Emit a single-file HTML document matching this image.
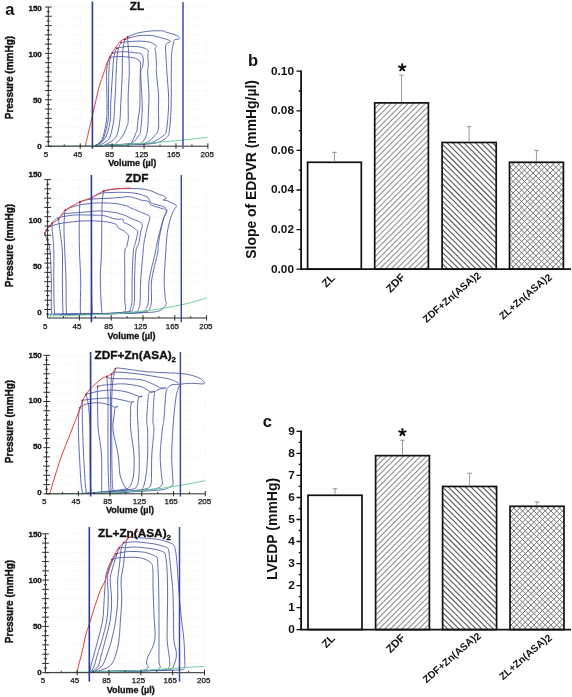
<!DOCTYPE html>
<html><head><meta charset="utf-8"><style>
html,body{margin:0;padding:0;background:#fff;}
body{width:572px;height:697px;overflow:hidden;font-family:"Liberation Sans", sans-serif;}
svg{display:block;will-change:transform;}
</style></head><body>
<svg width="572" height="697" viewBox="0 0 572 697" font-family='"Liberation Sans", sans-serif'>
<rect width="572" height="697" fill="#fff"/>
<path d="M51.3,7.00H207.9M51.3,16.28H207.9M51.3,25.56H207.9M51.3,34.84H207.9M51.3,44.12H207.9M51.3,53.40H207.9M51.3,62.68H207.9M51.3,71.96H207.9M51.3,81.24H207.9M51.3,90.52H207.9M51.3,99.80H207.9M51.3,109.08H207.9M51.3,118.36H207.9M51.3,127.64H207.9M51.3,136.92H207.9M80.22,7.0V143.2M112.14,7.0V143.2M144.06,7.0V143.2M175.98,7.0V143.2M207.90,7.0V143.2" stroke="#e9ebf1" stroke-width="0.7" stroke-dasharray="1.2 1.8" fill="none"/>
<path d="M127.50,37.00 C128.58,36.53 131.92,34.95 134.00,34.20 C136.08,33.45 137.03,33.05 140.00,32.50 C142.97,31.95 148.00,31.17 151.80,30.90 C155.60,30.63 160.43,30.70 162.80,30.90 C165.17,31.10 163.77,31.38 166.00,32.10 C168.23,32.82 173.98,34.28 176.20,35.20 C178.42,36.12 178.90,36.93 179.30,37.60 C179.70,38.27 179.32,38.87 178.60,39.20 C177.88,39.53 175.80,39.22 175.00,39.60 C174.20,39.98 174.25,40.00 173.80,41.50 C173.35,43.00 172.68,46.10 172.30,48.60 C171.92,51.10 171.67,52.60 171.50,56.50 C171.33,60.40 171.33,65.58 171.30,72.00 C171.27,78.42 171.35,88.67 171.30,95.00 C171.25,101.33 171.32,104.00 171.00,110.00 C170.68,116.00 170.10,126.45 169.40,131.00 C168.70,135.55 168.45,135.47 166.80,137.30 C165.15,139.13 162.30,140.92 159.50,142.00 C156.70,143.08 154.08,143.37 150.00,143.80 C145.92,144.23 140.00,144.37 135.00,144.60 C130.00,144.83 123.47,145.07 120.00,145.20 C116.53,145.33 115.17,145.37 114.20,145.40 C115.60,143.83 120.47,139.23 122.60,136.00 C124.73,132.77 126.07,128.67 127.00,126.00 C127.93,123.33 128.00,125.17 128.20,120.00 C128.40,114.83 128.02,103.00 128.20,95.00 C128.38,87.00 129.20,78.67 129.30,72.00 C129.40,65.33 129.02,59.67 128.80,55.00 C128.58,50.33 128.22,47.00 128.00,44.00 C127.78,41.00 127.58,38.17 127.50,37.00M124.80,39.50 C126.00,39.12 129.47,37.85 132.00,37.20 C134.53,36.55 136.70,35.87 140.00,35.60 C143.30,35.33 148.13,35.20 151.80,35.60 C155.47,36.00 159.12,37.22 162.00,38.00 C164.88,38.78 167.72,39.65 169.10,40.30 C170.48,40.95 170.68,41.37 170.30,41.90 C169.92,42.43 167.58,42.65 166.80,43.50 C166.02,44.35 165.73,44.83 165.60,47.00 C165.47,49.17 165.78,52.33 166.00,56.50 C166.22,60.67 166.48,65.58 166.90,72.00 C167.32,78.42 168.25,88.67 168.50,95.00 C168.75,101.33 168.77,104.00 168.40,110.00 C168.03,116.00 167.27,126.63 166.30,131.00 C165.33,135.37 164.97,134.28 162.60,136.20 C160.23,138.12 155.03,141.22 152.10,142.50 C149.17,143.78 149.52,143.52 145.00,143.90 C140.48,144.28 131.83,144.53 125.00,144.80 C118.17,145.07 107.50,145.38 104.00,145.50 C105.33,144.75 109.83,142.75 112.00,141.00 C114.17,139.25 115.68,138.50 117.00,135.00 C118.32,131.50 119.30,124.67 119.90,120.00 C120.50,115.33 120.33,112.00 120.60,107.00 C120.87,102.00 121.22,95.83 121.50,90.00 C121.78,84.17 122.13,77.83 122.30,72.00 C122.47,66.17 122.30,59.50 122.50,55.00 C122.70,50.50 123.12,47.58 123.50,45.00 C123.88,42.42 124.58,40.42 124.80,39.50M121.20,42.50 C122.67,42.35 126.87,41.83 130.00,41.60 C133.13,41.37 136.63,40.98 140.00,41.10 C143.37,41.22 147.52,41.57 150.20,42.30 C152.88,43.03 155.05,44.78 156.10,45.50 C157.15,46.22 156.68,46.08 156.50,46.60 C156.32,47.12 155.13,47.62 155.00,48.60 C154.87,49.58 155.45,49.77 155.70,52.50 C155.95,55.23 156.38,61.75 156.50,65.00 C156.62,68.25 156.07,67.00 156.40,72.00 C156.73,77.00 158.17,88.67 158.50,95.00 C158.83,101.33 158.42,104.35 158.40,110.00 C158.38,115.65 159.10,124.53 158.40,128.90 C157.70,133.27 156.12,133.93 154.20,136.20 C152.28,138.47 149.60,141.20 146.90,142.50 C144.20,143.80 143.32,143.60 138.00,144.00 C132.68,144.40 121.58,144.60 115.00,144.90 C108.42,145.20 101.25,145.65 98.50,145.80 C99.55,145.22 102.88,143.77 104.80,142.30 C106.72,140.83 108.50,140.72 110.00,137.00 C111.50,133.28 113.05,125.00 113.80,120.00 C114.55,115.00 114.22,112.00 114.50,107.00 C114.78,102.00 115.22,95.83 115.50,90.00 C115.78,84.17 115.95,77.33 116.20,72.00 C116.45,66.67 116.62,62.00 117.00,58.00 C117.38,54.00 117.80,50.58 118.50,48.00 C119.20,45.42 120.75,43.42 121.20,42.50M116.90,48.20 C117.92,48.00 120.82,47.30 123.00,47.00 C125.18,46.70 127.17,46.40 130.00,46.40 C132.83,46.40 137.15,46.50 140.00,47.00 C142.85,47.50 145.72,48.62 147.10,49.40 C148.48,50.18 148.17,50.52 148.30,51.70 C148.43,52.88 147.90,54.28 147.90,56.50 C147.90,58.72 148.33,62.42 148.30,65.00 C148.27,67.58 147.58,67.00 147.70,72.00 C147.82,77.00 148.87,88.67 149.00,95.00 C149.13,101.33 148.77,104.00 148.50,110.00 C148.23,116.00 148.20,125.93 147.40,131.00 C146.60,136.07 145.18,138.30 143.70,140.40 C142.22,142.50 142.45,142.87 138.50,143.60 C134.55,144.33 127.02,144.40 120.00,144.80 C112.98,145.20 100.33,145.80 96.40,146.00 C97.45,145.20 100.93,143.20 102.70,141.20 C104.47,139.20 105.73,137.53 107.00,134.00 C108.27,130.47 109.70,124.50 110.30,120.00 C110.90,115.50 110.40,112.00 110.60,107.00 C110.80,102.00 111.15,95.83 111.50,90.00 C111.85,84.17 112.37,77.00 112.70,72.00 C113.03,67.00 113.12,63.33 113.50,60.00 C113.88,56.67 114.43,53.97 115.00,52.00 C115.57,50.03 116.58,48.83 116.90,48.20M112.50,53.00 C113.42,52.83 115.82,52.22 118.00,52.00 C120.18,51.78 122.43,51.53 125.60,51.70 C128.77,51.87 134.60,52.73 137.00,53.00 C139.40,53.27 139.08,52.88 140.00,53.30 C140.92,53.72 141.95,54.38 142.50,55.50 C143.05,56.62 143.30,58.08 143.30,60.00 C143.30,61.92 142.93,65.00 142.50,67.00 C142.07,69.00 140.82,67.33 140.70,72.00 C140.58,76.67 141.55,88.67 141.80,95.00 C142.05,101.33 142.40,104.00 142.20,110.00 C142.00,116.00 141.13,126.83 140.60,131.00 C140.07,135.17 140.05,133.25 139.00,135.00 C137.95,136.75 135.80,140.03 134.30,141.50 C132.80,142.97 133.22,143.25 130.00,143.80 C126.78,144.35 120.75,144.43 115.00,144.80 C109.25,145.17 98.75,145.80 95.50,146.00 C96.25,145.50 98.58,144.50 100.00,143.00 C101.42,141.50 102.65,140.83 104.00,137.00 C105.35,133.17 107.37,125.00 108.10,120.00 C108.83,115.00 108.32,112.00 108.40,107.00 C108.48,102.00 108.52,95.83 108.60,90.00 C108.68,84.17 108.75,76.67 108.90,72.00 C109.05,67.33 109.18,64.67 109.50,62.00 C109.82,59.33 110.30,57.50 110.80,56.00 C111.30,54.50 112.22,53.50 112.50,53.00M109.90,57.30 C110.75,57.22 113.12,56.93 115.00,56.80 C116.88,56.67 118.70,56.42 121.20,56.50 C123.70,56.58 127.67,57.02 130.00,57.30 C132.33,57.58 133.70,57.67 135.20,58.20 C136.70,58.73 138.12,59.70 139.00,60.50 C139.88,61.30 140.28,61.08 140.50,63.00 C140.72,64.92 140.38,67.50 140.30,72.00 C140.22,76.50 140.08,84.17 140.00,90.00 C139.92,95.83 140.13,102.00 139.80,107.00 C139.47,112.00 138.48,116.00 138.00,120.00 C137.52,124.00 137.25,128.83 136.90,131.00 C136.55,133.17 136.68,131.25 135.90,133.00 C135.12,134.75 133.52,139.68 132.20,141.50 C130.88,143.32 131.70,143.32 128.00,143.90 C124.30,144.48 115.58,144.63 110.00,145.00 C104.42,145.37 97.08,145.92 94.50,146.10 C95.25,145.58 97.58,144.52 99.00,143.00 C100.42,141.48 101.75,140.83 103.00,137.00 C104.25,133.17 105.83,125.00 106.50,120.00 C107.17,115.00 106.95,112.00 107.00,107.00 C107.05,102.00 106.87,95.83 106.80,90.00 C106.73,84.17 106.48,76.33 106.60,72.00 C106.72,67.67 107.18,66.00 107.50,64.00 C107.82,62.00 108.10,61.12 108.50,60.00 C108.90,58.88 109.67,57.75 109.90,57.30" stroke="#4d5ca8" stroke-width="0.9" fill="none" stroke-linejoin="round"/>
<path d="M48.30,146.00 C53.58,145.98 71.38,145.98 80.00,145.90 C88.62,145.82 93.33,145.68 100.00,145.50 C106.67,145.32 113.33,145.12 120.00,144.80 C126.67,144.48 133.33,144.03 140.00,143.60 C146.67,143.17 153.33,142.75 160.00,142.20 C166.67,141.65 174.17,140.87 180.00,140.30 C185.83,139.73 190.43,139.28 195.00,138.80 C199.57,138.32 205.33,137.63 207.40,137.40" stroke="#6fcf9a" stroke-width="1" fill="none"/>
<path d="M85.30,146.20 C85.88,143.67 87.63,136.03 88.80,131.00 C89.97,125.97 91.10,121.17 92.30,116.00 C93.50,110.83 94.78,105.17 96.00,100.00 C97.22,94.83 98.38,89.27 99.60,85.00 C100.82,80.73 102.03,78.13 103.30,74.40 C104.57,70.67 106.03,65.67 107.20,62.60 C108.37,59.53 108.98,58.40 110.30,56.00 C111.62,53.60 113.72,50.30 115.10,48.20 C116.48,46.10 117.58,44.65 118.60,43.40 C119.62,42.15 120.10,41.50 121.20,40.70 C122.30,39.90 123.98,39.18 125.20,38.60 C126.42,38.02 127.95,37.43 128.50,37.20" stroke="#e83a3a" stroke-width="1" fill="none"/>
<g fill="#9a1c2a"><circle cx="127.50" cy="37.00" r="0.9"/><circle cx="124.80" cy="39.50" r="0.9"/><circle cx="121.20" cy="42.50" r="0.9"/><circle cx="116.90" cy="48.20" r="0.9"/><circle cx="112.50" cy="53.00" r="0.9"/><circle cx="109.90" cy="57.30" r="0.9"/></g>
<path d="M48.30,7.00V146.20H207.90" stroke="#2a2a2a" stroke-width="1" fill="none"/>
<path d="M45.10,7.00H51.70M46.70,11.64H49.90M45.10,16.28H51.70M46.70,20.92H49.90M45.10,25.56H51.70M46.70,30.20H49.90M45.10,34.84H51.70M46.70,39.48H49.90M45.10,44.12H51.70M46.70,48.76H49.90M45.10,53.40H51.70M46.70,58.04H49.90M45.10,62.68H51.70M46.70,67.32H49.90M45.10,71.96H51.70M46.70,76.60H49.90M45.10,81.24H51.70M46.70,85.88H49.90M45.10,90.52H51.70M46.70,95.16H49.90M45.10,99.80H51.70M46.70,104.44H49.90M45.10,109.08H51.70M46.70,113.72H49.90M45.10,118.36H51.70M46.70,123.00H49.90M45.10,127.64H51.70M46.70,132.28H49.90M45.10,136.92H51.70M46.70,141.56H49.90M45.10,146.20H51.70M80.22,148.80V143.40M112.14,148.80V143.40M144.06,148.80V143.40M175.98,148.80V143.40M207.90,148.80V143.40M64.26,146.20V144.40M96.18,146.20V144.40M128.10,146.20V144.40M160.02,146.20V144.40M191.94,146.20V144.40" stroke="#2a2a2a" stroke-width="1" fill="none"/>
<line x1="92.40" y1="1.50" x2="92.40" y2="148.80" stroke="#2b3aa2" stroke-width="1.6" />
<line x1="183.00" y1="2.00" x2="183.00" y2="148.80" stroke="#6068b8" stroke-width="1.8" />
<text x="41.80" y="11.16" font-size="8.0" font-weight="bold" text-anchor="end" fill="#111" stroke="#111" stroke-width="0.3" >150</text>
<text x="41.80" y="56.86" font-size="8.0" font-weight="bold" text-anchor="end" fill="#111" stroke="#111" stroke-width="0.3" >100</text>
<text x="41.80" y="103.36" font-size="8.0" font-weight="bold" text-anchor="end" fill="#111" stroke="#111" stroke-width="0.3" >50</text>
<text x="41.80" y="149.06" font-size="8.0" font-weight="bold" text-anchor="end" fill="#111" stroke="#111" stroke-width="0.3" >0</text>
<text x="45.90" y="156.96" font-size="8.0" font-weight="normal" text-anchor="middle" fill="#111" stroke="#111" stroke-width="0.25" >5</text>
<text x="77.82" y="156.96" font-size="8.0" font-weight="normal" text-anchor="middle" fill="#111" stroke="#111" stroke-width="0.25" >45</text>
<text x="109.74" y="156.96" font-size="8.0" font-weight="normal" text-anchor="middle" fill="#111" stroke="#111" stroke-width="0.25" >85</text>
<text x="141.66" y="156.96" font-size="8.0" font-weight="normal" text-anchor="middle" fill="#111" stroke="#111" stroke-width="0.25" >125</text>
<text x="173.58" y="156.96" font-size="8.0" font-weight="normal" text-anchor="middle" fill="#111" stroke="#111" stroke-width="0.25" >165</text>
<text x="207.20" y="156.96" font-size="8.0" font-weight="normal" text-anchor="middle" fill="#111" stroke="#111" stroke-width="0.25" >205</text>
<text x="132.20" y="165.52" font-size="9.0" font-weight="bold" text-anchor="middle" fill="#111" stroke="#111" stroke-width="0.3" >Volume (µl)</text>
<text transform="translate(12.90,77.60) rotate(-90)" font-size="10" font-weight="bold" text-anchor="middle" fill="#111" stroke="#111" stroke-width="0.4">Pressure (mmHg)</text>
<text x="137.00" y="10.00" font-size="11.8" font-weight="bold" text-anchor="middle" fill="#111" stroke="#111" stroke-width="0.35" >ZL</text>
<path d="M50.6,179.58H206.6M50.6,188.86H206.6M50.6,198.14H206.6M50.6,207.42H206.6M50.6,216.70H206.6M50.6,225.98H206.6M50.6,235.26H206.6M50.6,244.54H206.6M50.6,253.82H206.6M50.6,263.10H206.6M50.6,272.38H206.6M50.6,281.66H206.6M50.6,290.94H206.6M50.6,300.22H206.6M79.40,179.9V315.0M111.20,179.9V315.0M143.00,179.9V315.0M174.80,179.9V315.0M206.60,179.9V315.0" stroke="#e9ebf1" stroke-width="0.7" stroke-dasharray="1.2 1.8" fill="none"/>
<path d="M103.80,191.00 C105.17,190.72 108.63,189.70 112.00,189.30 C115.37,188.90 119.33,188.68 124.00,188.60 C128.67,188.52 135.67,188.48 140.00,188.80 C144.33,189.12 147.00,189.63 150.00,190.50 C153.00,191.37 155.67,193.08 158.00,194.00 C160.33,194.92 162.67,195.25 164.00,196.00 C165.33,196.75 166.17,197.83 166.00,198.50 C165.83,199.17 162.78,199.63 163.00,200.00 C163.22,200.37 165.80,200.20 167.30,200.70 C168.80,201.20 170.48,202.15 172.00,203.00 C173.52,203.85 176.05,204.67 176.40,205.80 C176.75,206.93 175.05,207.82 174.10,209.80 C173.15,211.78 171.83,213.92 170.70,217.70 C169.57,221.48 168.15,226.28 167.30,232.50 C166.45,238.72 166.12,247.08 165.60,255.00 C165.08,262.92 164.27,272.83 164.20,280.00 C164.13,287.17 164.87,294.00 165.20,298.00 C165.53,302.00 166.57,302.25 166.20,304.00 C165.83,305.75 164.60,307.23 163.00,308.50 C161.40,309.77 160.43,310.88 156.60,311.60 C152.77,312.32 147.77,312.47 140.00,312.80 C132.23,313.13 116.00,313.43 110.00,313.60 C104.00,313.77 105.37,314.23 104.00,313.80 C102.63,313.37 102.42,316.63 101.80,311.00 C101.18,305.37 100.35,289.83 100.30,280.00 C100.25,270.17 101.25,262.00 101.50,252.00 C101.75,242.00 101.67,228.67 101.80,220.00 C101.93,211.33 101.97,204.83 102.30,200.00 C102.63,195.17 103.55,192.50 103.80,191.00M91.80,197.60 C92.50,197.17 94.22,195.77 96.00,195.00 C97.78,194.23 99.83,193.42 102.50,193.00 C105.17,192.58 108.42,192.62 112.00,192.50 C115.58,192.38 119.83,192.13 124.00,192.30 C128.17,192.47 133.77,192.97 137.00,193.50 C140.23,194.03 141.57,194.87 143.40,195.50 C145.23,196.13 146.87,196.25 148.00,197.30 C149.13,198.35 149.45,200.77 150.20,201.80 C150.95,202.83 150.42,202.73 152.50,203.50 C154.58,204.27 160.33,205.40 162.70,206.40 C165.07,207.40 166.15,208.40 166.70,209.50 C167.25,210.60 166.47,211.63 166.00,213.00 C165.53,214.37 164.73,215.03 163.90,217.70 C163.07,220.37 161.95,224.45 161.00,229.00 C160.05,233.55 158.73,241.17 158.20,245.00 C157.67,248.83 158.88,246.17 157.80,252.00 C156.72,257.83 152.75,272.00 151.70,280.00 C150.65,288.00 151.78,295.33 151.50,300.00 C151.22,304.67 150.92,306.03 150.00,308.00 C149.08,309.97 149.33,310.93 146.00,311.80 C142.67,312.67 138.33,312.85 130.00,313.20 C121.67,313.55 102.25,314.10 96.00,313.90 C89.75,313.70 93.22,315.98 92.50,312.00 C91.78,308.02 91.85,300.00 91.70,290.00 C91.55,280.00 91.63,263.67 91.60,252.00 C91.57,240.33 91.50,227.83 91.50,220.00 C91.50,212.17 91.55,208.73 91.60,205.00 C91.65,201.27 91.77,198.83 91.80,197.60M79.90,202.00 C80.92,201.67 83.78,200.50 86.00,200.00 C88.22,199.50 89.57,199.28 93.20,199.00 C96.83,198.72 103.33,198.55 107.80,198.30 C112.27,198.05 116.33,197.77 120.00,197.50 C123.67,197.23 126.28,196.27 129.80,196.70 C133.32,197.13 138.07,199.33 141.10,200.10 C144.13,200.87 146.48,200.63 148.00,201.30 C149.52,201.97 149.63,203.45 150.20,204.10 C150.77,204.75 149.68,204.53 151.40,205.20 C153.12,205.87 158.13,207.33 160.50,208.10 C162.87,208.87 164.57,209.15 165.60,209.80 C166.63,210.45 166.98,210.68 166.70,212.00 C166.42,213.32 164.93,214.85 163.90,217.70 C162.87,220.55 161.65,224.93 160.50,229.10 C159.35,233.27 157.85,238.88 157.00,242.70 C156.15,246.52 156.70,245.78 155.40,252.00 C154.10,258.22 150.35,272.00 149.20,280.00 C148.05,288.00 148.95,295.33 148.50,300.00 C148.05,304.67 147.58,306.03 146.50,308.00 C145.42,309.97 145.58,310.92 142.00,311.80 C138.42,312.68 134.67,312.93 125.00,313.30 C115.33,313.67 91.42,314.22 84.00,314.00 C76.58,313.78 81.05,317.67 80.50,312.00 C79.95,306.33 80.87,290.00 80.70,280.00 C80.53,270.00 79.75,260.33 79.50,252.00 C79.25,243.67 79.20,237.00 79.20,230.00 C79.20,223.00 79.38,214.67 79.50,210.00 C79.62,205.33 79.83,203.33 79.90,202.00M65.30,210.20 C66.42,209.67 69.57,207.88 72.00,207.00 C74.43,206.12 76.90,205.48 79.90,204.90 C82.90,204.32 86.68,203.83 90.00,203.50 C93.32,203.17 95.63,202.90 99.80,202.90 C103.97,202.90 110.57,203.02 115.00,203.50 C119.43,203.98 123.57,204.95 126.40,205.80 C129.23,206.65 130.48,207.93 132.00,208.60 C133.52,209.27 133.60,209.03 135.50,209.80 C137.40,210.57 141.13,212.17 143.40,213.20 C145.67,214.23 148.05,215.05 149.10,216.00 C150.15,216.95 150.08,216.72 149.70,218.90 C149.32,221.08 147.75,225.13 146.80,229.10 C145.85,233.07 144.62,238.88 144.00,242.70 C143.38,246.52 143.65,245.78 143.10,252.00 C142.55,258.22 141.18,272.00 140.70,280.00 C140.22,288.00 140.48,295.33 140.20,300.00 C139.92,304.67 139.78,306.03 139.00,308.00 C138.22,309.97 138.67,310.90 135.50,311.80 C132.33,312.70 130.92,313.03 120.00,313.40 C109.08,313.77 78.92,314.23 70.00,314.00 C61.08,313.77 67.17,317.67 66.50,312.00 C65.83,306.33 66.28,290.00 66.00,280.00 C65.72,270.00 65.13,260.33 64.80,252.00 C64.47,243.67 64.05,236.17 64.00,230.00 C63.95,223.83 64.28,218.30 64.50,215.00 C64.72,211.70 65.17,211.00 65.30,210.20M58.60,218.90 C59.08,218.33 60.38,216.38 61.50,215.50 C62.62,214.62 61.57,214.15 65.30,213.60 C69.03,213.05 78.15,212.65 83.90,212.20 C89.65,211.75 94.62,210.83 99.80,210.90 C104.98,210.97 111.33,212.03 115.00,212.60 C118.67,213.17 119.90,213.73 121.80,214.30 C123.70,214.87 124.70,215.23 126.40,216.00 C128.10,216.77 129.83,217.95 132.00,218.90 C134.17,219.85 137.68,220.67 139.40,221.70 C141.12,222.73 142.10,223.30 142.30,225.10 C142.50,226.90 141.17,229.57 140.60,232.50 C140.03,235.43 139.70,239.45 138.90,242.70 C138.10,245.95 136.52,245.78 135.80,252.00 C135.08,258.22 134.82,272.00 134.60,280.00 C134.38,288.00 134.77,295.33 134.50,300.00 C134.23,304.67 133.75,306.03 133.00,308.00 C132.25,309.97 133.83,310.88 130.00,311.80 C126.17,312.72 120.83,313.13 110.00,313.50 C99.17,313.87 72.83,314.25 65.00,314.00 C57.17,313.75 63.43,317.67 63.00,312.00 C62.57,306.33 62.50,290.00 62.40,280.00 C62.30,270.00 62.72,259.50 62.40,252.00 C62.08,244.50 61.03,239.50 60.50,235.00 C59.97,230.50 59.52,227.68 59.20,225.00 C58.88,222.32 58.70,219.92 58.60,218.90M52.00,223.50 C52.50,222.83 53.90,220.48 55.00,219.50 C56.10,218.52 56.10,218.27 58.60,217.60 C61.10,216.93 66.45,215.95 70.00,215.50 C73.55,215.05 75.73,214.95 79.90,214.90 C84.07,214.85 91.02,215.08 95.00,215.20 C98.98,215.32 100.47,214.98 103.80,215.60 C107.13,216.22 111.80,218.27 115.00,218.90 C118.20,219.53 121.58,218.83 123.00,219.40 C124.42,219.97 122.37,221.35 123.50,222.30 C124.63,223.25 127.62,223.78 129.80,225.10 C131.98,226.42 135.28,228.97 136.60,230.20 C137.92,231.43 137.88,230.42 137.70,232.50 C137.52,234.58 136.23,239.45 135.50,242.70 C134.77,245.95 133.87,245.78 133.30,252.00 C132.73,258.22 132.32,272.00 132.10,280.00 C131.88,288.00 132.27,295.33 132.00,300.00 C131.73,304.67 131.33,306.03 130.50,308.00 C129.67,309.97 132.08,310.87 127.00,311.80 C121.92,312.73 111.50,313.23 100.00,313.60 C88.50,313.97 65.58,314.27 58.00,314.00 C50.42,313.73 55.20,317.67 54.50,312.00 C53.80,306.33 53.92,290.00 53.80,280.00 C53.68,270.00 53.93,259.00 53.80,252.00 C53.67,245.00 53.27,241.67 53.00,238.00 C52.73,234.33 52.37,232.42 52.20,230.00 C52.03,227.58 52.03,224.58 52.00,223.50M44.70,233.50 C44.95,232.83 45.65,230.50 46.20,229.50 C46.75,228.50 46.53,228.28 48.00,227.50 C49.47,226.72 52.35,225.57 55.00,224.80 C57.65,224.03 59.08,223.55 63.90,222.90 C68.72,222.25 77.25,221.13 83.90,220.90 C90.55,220.67 98.48,220.95 103.80,221.50 C109.12,222.05 113.37,223.12 115.80,224.20 C118.23,225.28 117.20,227.00 118.40,228.00 C119.60,229.00 121.38,229.07 123.00,230.20 C124.62,231.33 127.17,233.67 128.10,234.80 C129.03,235.93 128.80,235.12 128.60,237.00 C128.40,238.88 127.53,243.60 126.90,246.10 C126.27,248.60 125.15,246.35 124.80,252.00 C124.45,257.65 124.80,272.00 124.80,280.00 C124.80,288.00 124.68,295.17 124.80,300.00 C124.92,304.83 125.97,306.92 125.50,309.00 C125.03,311.08 126.25,311.73 122.00,312.50 C117.75,313.27 111.33,313.35 100.00,313.60 C88.67,313.85 62.08,314.27 54.00,314.00 C45.92,313.73 51.95,317.67 51.50,312.00 C51.05,306.33 51.53,290.00 51.30,280.00 C51.07,270.00 50.65,258.33 50.10,252.00 C49.55,245.67 48.68,244.50 48.00,242.00 C47.32,239.50 46.55,238.42 46.00,237.00 C45.45,235.58 44.92,234.08 44.70,233.50" stroke="#4d5ca8" stroke-width="0.9" fill="none" stroke-linejoin="round"/>
<path d="M48.90,316.00 C54.08,315.87 68.58,315.60 80.00,315.20 C91.42,314.80 107.40,314.22 117.40,313.60 C127.40,312.98 132.90,312.30 140.00,311.50 C147.10,310.70 152.67,310.00 160.00,308.80 C167.33,307.60 176.23,306.10 184.00,304.30 C191.77,302.50 202.83,299.05 206.60,298.00" stroke="#6fcf9a" stroke-width="1" fill="none"/>
<path d="M44.70,233.50 C45.25,232.50 46.78,229.17 48.00,227.50 C49.22,225.83 50.23,224.93 52.00,223.50 C53.77,222.07 56.38,221.12 58.60,218.90 C60.82,216.68 61.75,213.02 65.30,210.20 C68.85,207.38 75.48,204.10 79.90,202.00 C84.32,199.90 87.82,199.43 91.80,197.60 C95.78,195.77 100.43,192.38 103.80,191.00 C107.17,189.62 109.30,189.70 112.00,189.30 C114.70,188.90 116.88,188.82 120.00,188.60 C123.12,188.38 128.92,188.10 130.70,188.00" stroke="#e83a3a" stroke-width="1" fill="none"/>
<g fill="#9a1c2a"><circle cx="103.80" cy="191.00" r="0.9"/><circle cx="91.80" cy="197.60" r="0.9"/><circle cx="79.90" cy="202.00" r="0.9"/><circle cx="65.30" cy="210.20" r="0.9"/><circle cx="58.60" cy="218.90" r="0.9"/><circle cx="52.00" cy="223.50" r="0.9"/><circle cx="44.70" cy="233.50" r="0.9"/></g>
<path d="M47.60,179.90V318.00H206.60" stroke="#2a2a2a" stroke-width="1" fill="none"/>
<path d="M44.40,179.58H51.00M46.00,184.22H49.20M44.40,188.86H51.00M46.00,193.50H49.20M44.40,198.14H51.00M46.00,202.78H49.20M44.40,207.42H51.00M46.00,212.06H49.20M44.40,216.70H51.00M46.00,221.34H49.20M44.40,225.98H51.00M46.00,230.62H49.20M44.40,235.26H51.00M46.00,239.90H49.20M44.40,244.54H51.00M46.00,249.18H49.20M44.40,253.82H51.00M46.00,258.46H49.20M44.40,263.10H51.00M46.00,267.74H49.20M44.40,272.38H51.00M46.00,277.02H49.20M44.40,281.66H51.00M46.00,286.30H49.20M44.40,290.94H51.00M46.00,295.58H49.20M44.40,300.22H51.00M46.00,304.86H49.20M44.40,309.50H51.00M46.00,314.14H49.20M79.40,320.60V315.20M111.20,320.60V315.20M143.00,320.60V315.20M174.80,320.60V315.20M206.60,320.60V315.20M63.50,318.00V316.20M95.30,318.00V316.20M127.10,318.00V316.20M158.90,318.00V316.20M190.70,318.00V316.20" stroke="#2a2a2a" stroke-width="1" fill="none"/>
<line x1="91.40" y1="175.00" x2="91.40" y2="322.30" stroke="#2b3aa2" stroke-width="1.6" />
<line x1="181.30" y1="175.00" x2="181.30" y2="322.30" stroke="#3646ac" stroke-width="1.45" />
<text x="41.80" y="177.46" font-size="8.0" font-weight="bold" text-anchor="end" fill="#111" stroke="#111" stroke-width="0.3" >150</text>
<text x="41.80" y="222.86" font-size="8.0" font-weight="bold" text-anchor="end" fill="#111" stroke="#111" stroke-width="0.3" >100</text>
<text x="41.80" y="269.26" font-size="8.0" font-weight="bold" text-anchor="end" fill="#111" stroke="#111" stroke-width="0.3" >50</text>
<text x="41.80" y="314.86" font-size="8.0" font-weight="bold" text-anchor="end" fill="#111" stroke="#111" stroke-width="0.3" >0</text>
<text x="45.20" y="329.46" font-size="8.0" font-weight="normal" text-anchor="middle" fill="#111" stroke="#111" stroke-width="0.25" >5</text>
<text x="77.00" y="329.46" font-size="8.0" font-weight="normal" text-anchor="middle" fill="#111" stroke="#111" stroke-width="0.25" >45</text>
<text x="108.80" y="329.46" font-size="8.0" font-weight="normal" text-anchor="middle" fill="#111" stroke="#111" stroke-width="0.25" >85</text>
<text x="140.60" y="329.46" font-size="8.0" font-weight="normal" text-anchor="middle" fill="#111" stroke="#111" stroke-width="0.25" >125</text>
<text x="172.40" y="329.46" font-size="8.0" font-weight="normal" text-anchor="middle" fill="#111" stroke="#111" stroke-width="0.25" >165</text>
<text x="205.90" y="329.46" font-size="8.0" font-weight="normal" text-anchor="middle" fill="#111" stroke="#111" stroke-width="0.25" >205</text>
<text x="131.50" y="338.52" font-size="9.0" font-weight="bold" text-anchor="middle" fill="#111" stroke="#111" stroke-width="0.3" >Volume (µl)</text>
<text transform="translate(12.90,245.50) rotate(-90)" font-size="10" font-weight="bold" text-anchor="middle" fill="#111" stroke="#111" stroke-width="0.4">Pressure (mmHg)</text>
<text x="137.00" y="182.30" font-size="11.8" font-weight="bold" text-anchor="middle" fill="#111" stroke="#111" stroke-width="0.35" >ZDF</text>
<path d="M49.6,355.35H205.3M49.6,364.58H205.3M49.6,373.81H205.3M49.6,383.04H205.3M49.6,392.27H205.3M49.6,401.50H205.3M49.6,410.73H205.3M49.6,419.96H205.3M49.6,429.19H205.3M49.6,438.42H205.3M49.6,447.65H205.3M49.6,456.88H205.3M49.6,466.11H205.3M49.6,475.34H205.3M49.6,484.57H205.3M78.34,355.3V490.8M110.08,355.3V490.8M141.82,355.3V490.8M173.56,355.3V490.8M205.30,355.3V490.8" stroke="#e9ebf1" stroke-width="0.7" stroke-dasharray="1.2 1.8" fill="none"/>
<path d="M115.40,368.60 C115.83,368.50 115.57,367.85 118.00,368.00 C120.43,368.15 125.50,368.90 130.00,369.50 C134.50,370.10 140.00,371.10 145.00,371.60 C150.00,372.10 154.10,372.18 160.00,372.50 C165.90,372.82 175.17,373.03 180.40,373.50 C185.63,373.97 188.13,374.48 191.40,375.30 C194.67,376.12 197.85,377.18 200.00,378.40 C202.15,379.62 203.90,381.68 204.30,382.60 C204.70,383.52 204.55,383.78 202.40,383.90 C200.25,384.02 194.67,383.30 191.40,383.30 C188.13,383.30 184.73,383.60 182.80,383.90 C180.87,384.20 180.62,384.18 179.80,385.10 C178.98,386.02 178.52,387.47 177.90,389.40 C177.28,391.33 176.70,393.03 176.10,396.70 C175.50,400.37 174.85,405.85 174.30,411.40 C173.75,416.95 173.23,422.73 172.80,430.00 C172.37,437.27 171.75,447.50 171.70,455.00 C171.65,462.50 172.32,470.07 172.50,475.00 C172.68,479.93 173.55,482.43 172.80,484.60 C172.05,486.77 170.13,487.10 168.00,488.00 C165.87,488.90 166.33,489.33 160.00,490.00 C153.67,490.67 137.33,491.53 130.00,492.00 C122.67,492.47 118.83,493.13 116.00,492.80 C113.17,492.47 113.67,493.80 113.00,490.00 C112.33,486.20 112.22,480.00 112.00,470.00 C111.78,460.00 111.75,441.67 111.70,430.00 C111.65,418.33 111.48,408.33 111.70,400.00 C111.92,391.67 112.38,385.23 113.00,380.00 C113.62,374.77 115.00,370.50 115.40,368.60M111.70,374.10 C112.32,373.78 112.35,372.38 115.40,372.20 C118.45,372.02 125.07,372.55 130.00,373.00 C134.93,373.45 140.27,374.22 145.00,374.90 C149.73,375.58 154.33,376.42 158.40,377.10 C162.47,377.78 166.35,378.18 169.40,379.00 C172.45,379.82 175.07,381.08 176.70,382.00 C178.33,382.92 179.82,384.08 179.20,384.50 C178.58,384.92 174.63,384.20 173.00,384.50 C171.37,384.80 170.52,385.28 169.40,386.30 C168.28,387.32 167.02,387.85 166.30,390.60 C165.58,393.35 165.50,397.90 165.10,402.80 C164.70,407.70 164.37,415.47 163.90,420.00 C163.43,424.53 162.92,424.17 162.30,430.00 C161.68,435.83 160.33,447.50 160.20,455.00 C160.07,462.50 161.15,470.17 161.50,475.00 C161.85,479.83 162.88,481.83 162.30,484.00 C161.72,486.17 160.05,487.08 158.00,488.00 C155.95,488.92 155.50,488.83 150.00,489.50 C144.50,490.17 131.17,491.45 125.00,492.00 C118.83,492.55 115.33,493.13 113.00,492.80 C110.67,492.47 111.42,495.47 111.00,490.00 C110.58,484.53 110.58,470.00 110.50,460.00 C110.42,450.00 110.50,440.00 110.50,430.00 C110.50,420.00 110.42,407.50 110.50,400.00 C110.58,392.50 110.80,389.32 111.00,385.00 C111.20,380.68 111.58,375.92 111.70,374.10M106.80,376.50 C107.42,376.82 107.47,378.02 110.50,378.40 C113.53,378.78 120.08,378.60 125.00,378.80 C129.92,379.00 135.87,378.97 140.00,379.60 C144.13,380.23 146.73,381.38 149.80,382.60 C152.87,383.82 156.47,385.98 158.40,386.90 C160.33,387.82 160.18,387.93 161.40,388.10 C162.62,388.27 165.93,387.75 165.70,387.90 C165.47,388.05 161.63,388.45 160.00,389.00 C158.37,389.55 156.88,389.92 155.90,391.20 C154.92,392.48 154.60,391.90 154.10,396.70 C153.60,401.50 152.93,414.45 152.90,420.00 C152.87,425.55 154.08,424.17 153.90,430.00 C153.72,435.83 152.20,447.50 151.80,455.00 C151.40,462.50 151.67,470.00 151.50,475.00 C151.33,480.00 151.55,482.75 150.80,485.00 C150.05,487.25 149.63,487.58 147.00,488.50 C144.37,489.42 141.00,489.78 135.00,490.50 C129.00,491.22 115.33,492.88 111.00,492.80 C106.67,492.72 109.50,495.47 109.00,490.00 C108.50,484.53 108.17,470.00 108.00,460.00 C107.83,450.00 108.00,440.00 108.00,430.00 C108.00,420.00 108.08,407.50 108.00,400.00 C107.92,392.50 107.70,388.92 107.50,385.00 C107.30,381.08 106.92,377.92 106.80,376.50M97.60,386.50 C98.50,386.28 100.60,385.53 103.00,385.20 C105.40,384.87 108.50,384.72 112.00,384.50 C115.50,384.28 119.33,383.60 124.00,383.90 C128.67,384.20 136.12,385.28 140.00,386.30 C143.88,387.32 145.47,389.03 147.30,390.00 C149.13,390.97 149.77,391.83 151.00,392.10 C152.23,392.37 155.00,391.45 154.70,391.60 C154.40,391.75 150.32,391.73 149.20,393.00 C148.08,394.27 148.42,394.70 148.00,399.20 C147.58,403.70 146.77,414.87 146.70,420.00 C146.63,425.13 147.45,424.17 147.60,430.00 C147.75,435.83 147.87,447.50 147.60,455.00 C147.33,462.50 146.87,469.37 146.00,475.00 C145.13,480.63 144.23,486.22 142.40,488.80 C140.57,491.38 141.40,489.83 135.00,490.50 C128.60,491.17 109.53,492.88 104.00,492.80 C98.47,492.72 102.22,496.30 101.80,490.00 C101.38,483.70 102.08,465.00 101.50,455.00 C100.92,445.00 98.95,437.50 98.30,430.00 C97.65,422.50 97.75,415.83 97.60,410.00 C97.45,404.17 97.40,398.92 97.40,395.00 C97.40,391.08 97.57,387.92 97.60,386.50M86.00,394.50 C86.82,394.25 88.57,393.58 90.90,393.00 C93.23,392.42 96.53,391.50 100.00,391.00 C103.47,390.50 108.03,390.00 111.70,390.00 C115.37,390.00 118.95,390.50 122.00,391.00 C125.05,391.50 127.02,392.05 130.00,393.00 C132.98,393.95 137.85,396.18 139.90,396.70 C141.95,397.22 142.53,395.88 142.30,396.10 C142.07,396.32 139.32,395.68 138.50,398.00 C137.68,400.32 137.45,404.67 137.40,410.00 C137.35,415.33 137.90,422.50 138.20,430.00 C138.50,437.50 139.07,447.50 139.20,455.00 C139.33,462.50 139.37,469.83 139.00,475.00 C138.63,480.17 138.50,483.58 137.00,486.00 C135.50,488.42 137.00,488.37 130.00,489.50 C123.00,490.63 101.50,492.72 95.00,492.80 C88.50,492.88 91.83,495.47 91.00,490.00 C90.17,484.53 90.17,470.00 90.00,460.00 C89.83,450.00 90.17,438.33 90.00,430.00 C89.83,421.67 89.42,415.00 89.00,410.00 C88.58,405.00 88.00,402.58 87.50,400.00 C87.00,397.42 86.25,395.42 86.00,394.50M82.30,400.40 C83.73,400.20 86.40,399.60 90.90,399.20 C95.40,398.80 103.78,397.80 109.30,398.00 C114.82,398.20 120.33,399.70 124.00,400.40 C127.67,401.10 129.68,402.00 131.30,402.20 C132.92,402.40 133.75,401.30 133.70,401.60 C133.65,401.90 131.53,401.77 131.00,404.00 C130.47,406.23 130.53,410.67 130.50,415.00 C130.47,419.33 130.22,423.33 130.80,430.00 C131.38,436.67 133.55,447.50 134.00,455.00 C134.45,462.50 134.17,469.83 133.50,475.00 C132.83,480.17 131.75,483.58 130.00,486.00 C128.25,488.42 129.67,488.37 123.00,489.50 C116.33,490.63 96.17,492.72 90.00,492.80 C83.83,492.88 87.07,496.30 86.00,490.00 C84.93,483.70 84.17,465.00 83.60,455.00 C83.03,445.00 82.82,436.67 82.60,430.00 C82.38,423.33 82.35,419.93 82.30,415.00 C82.25,410.07 82.30,402.83 82.30,400.40M79.90,407.70 C80.92,407.10 82.73,404.92 86.00,404.10 C89.27,403.28 95.42,402.60 99.50,402.80 C103.58,403.00 108.05,404.58 110.50,405.30 C112.95,406.02 112.98,406.90 114.20,407.10 C115.42,407.30 117.67,406.27 117.80,406.50 C117.93,406.73 115.60,407.08 115.00,408.50 C114.40,409.92 114.53,411.42 114.20,415.00 C113.87,418.58 112.33,423.33 113.00,430.00 C113.67,436.67 117.03,447.50 118.20,455.00 C119.37,462.50 118.87,469.67 120.00,475.00 C121.13,480.33 123.72,484.52 125.00,487.00 C126.28,489.48 129.37,489.23 127.70,489.90 C126.03,490.57 121.62,490.52 115.00,491.00 C108.38,491.48 93.50,492.97 88.00,492.80 C82.50,492.63 83.43,496.30 82.00,490.00 C80.57,483.70 80.00,465.00 79.40,455.00 C78.80,445.00 78.52,436.67 78.40,430.00 C78.28,423.33 78.45,418.72 78.70,415.00 C78.95,411.28 79.70,408.92 79.90,407.70" stroke="#4d5ca8" stroke-width="0.9" fill="none" stroke-linejoin="round"/>
<path d="M46.60,494.00 C55.50,493.83 86.10,493.42 100.00,493.00 C113.90,492.58 120.00,492.25 130.00,491.50 C140.00,490.75 150.83,489.67 160.00,488.50 C169.17,487.33 177.45,485.80 185.00,484.50 C192.55,483.20 201.92,481.33 205.30,480.70" stroke="#6fcf9a" stroke-width="1" fill="none"/>
<path d="M49.90,493.20 C51.63,487.58 56.83,469.57 60.30,459.50 C63.77,449.43 67.43,441.30 70.70,432.80 C73.97,424.30 77.65,414.38 79.90,408.50 C82.15,402.62 82.47,400.75 84.20,397.50 C85.93,394.25 87.45,392.08 90.30,389.00 C93.15,385.92 98.55,381.08 101.30,379.00 C104.05,376.92 105.07,377.37 106.80,376.50 C108.53,375.63 110.27,375.12 111.70,373.80 C113.13,372.48 114.78,369.47 115.40,368.60" stroke="#e83a3a" stroke-width="1" fill="none"/>
<g fill="#9a1c2a"><circle cx="115.40" cy="368.60" r="0.9"/><circle cx="111.70" cy="374.10" r="0.9"/><circle cx="106.80" cy="376.50" r="0.9"/><circle cx="97.60" cy="386.50" r="0.9"/><circle cx="86.00" cy="394.50" r="0.9"/><circle cx="82.30" cy="400.40" r="0.9"/><circle cx="79.90" cy="407.70" r="0.9"/></g>
<path d="M46.60,355.30V493.80H205.30" stroke="#2a2a2a" stroke-width="1" fill="none"/>
<path d="M43.40,355.35H50.00M45.00,359.97H48.20M43.40,364.58H50.00M45.00,369.19H48.20M43.40,373.81H50.00M45.00,378.43H48.20M43.40,383.04H50.00M45.00,387.65H48.20M43.40,392.27H50.00M45.00,396.88H48.20M43.40,401.50H50.00M45.00,406.12H48.20M43.40,410.73H50.00M45.00,415.35H48.20M43.40,419.96H50.00M45.00,424.57H48.20M43.40,429.19H50.00M45.00,433.81H48.20M43.40,438.42H50.00M45.00,443.04H48.20M43.40,447.65H50.00M45.00,452.26H48.20M43.40,456.88H50.00M45.00,461.50H48.20M43.40,466.11H50.00M45.00,470.73H48.20M43.40,475.34H50.00M45.00,479.95H48.20M43.40,484.57H50.00M45.00,489.19H48.20M43.40,493.80H50.00M78.34,496.40V491.00M110.08,496.40V491.00M141.82,496.40V491.00M173.56,496.40V491.00M205.30,496.40V491.00M62.47,493.80V492.00M94.21,493.80V492.00M125.95,493.80V492.00M157.69,493.80V492.00M189.43,493.80V492.00" stroke="#2a2a2a" stroke-width="1" fill="none"/>
<line x1="90.60" y1="352.00" x2="90.60" y2="496.50" stroke="#2b3aa2" stroke-width="1.6" />
<line x1="180.40" y1="352.00" x2="180.40" y2="496.50" stroke="#3646ac" stroke-width="1.45" />
<text x="41.80" y="358.16" font-size="8.0" font-weight="bold" text-anchor="end" fill="#111" stroke="#111" stroke-width="0.3" >150</text>
<text x="41.80" y="402.96" font-size="8.0" font-weight="bold" text-anchor="end" fill="#111" stroke="#111" stroke-width="0.3" >100</text>
<text x="41.80" y="449.16" font-size="8.0" font-weight="bold" text-anchor="end" fill="#111" stroke="#111" stroke-width="0.3" >50</text>
<text x="41.80" y="495.46" font-size="8.0" font-weight="bold" text-anchor="end" fill="#111" stroke="#111" stroke-width="0.3" >0</text>
<text x="44.20" y="503.86" font-size="8.0" font-weight="normal" text-anchor="middle" fill="#111" stroke="#111" stroke-width="0.25" >5</text>
<text x="75.94" y="503.86" font-size="8.0" font-weight="normal" text-anchor="middle" fill="#111" stroke="#111" stroke-width="0.25" >45</text>
<text x="107.68" y="503.86" font-size="8.0" font-weight="normal" text-anchor="middle" fill="#111" stroke="#111" stroke-width="0.25" >85</text>
<text x="139.42" y="503.86" font-size="8.0" font-weight="normal" text-anchor="middle" fill="#111" stroke="#111" stroke-width="0.25" >125</text>
<text x="171.16" y="503.86" font-size="8.0" font-weight="normal" text-anchor="middle" fill="#111" stroke="#111" stroke-width="0.25" >165</text>
<text x="204.60" y="503.86" font-size="8.0" font-weight="normal" text-anchor="middle" fill="#111" stroke="#111" stroke-width="0.25" >205</text>
<text x="129.90" y="513.02" font-size="9.0" font-weight="bold" text-anchor="middle" fill="#111" stroke="#111" stroke-width="0.3" >Volume (µl)</text>
<text transform="translate(12.90,421.50) rotate(-90)" font-size="10" font-weight="bold" text-anchor="middle" fill="#111" stroke="#111" stroke-width="0.4">Pressure (mmHg)</text>
<text x="94.60" y="359.20" font-size="11.8" font-weight="bold" fill="#111" stroke="#111" stroke-width="0.35">ZDF+Zn(ASA)<tspan font-size="8" dy="2.4">2</tspan></text>
<path d="M48.4,533.80H204.5M48.4,543.06H204.5M48.4,552.32H204.5M48.4,561.58H204.5M48.4,570.84H204.5M48.4,580.10H204.5M48.4,589.36H204.5M48.4,598.62H204.5M48.4,607.88H204.5M48.4,617.14H204.5M48.4,626.40H204.5M48.4,635.66H204.5M48.4,644.92H204.5M48.4,654.18H204.5M48.4,663.44H204.5M77.22,533.8V669.7M109.04,533.8V669.7M140.86,533.8V669.7M172.68,533.8V669.7M204.50,533.8V669.7" stroke="#e9ebf1" stroke-width="0.7" stroke-dasharray="1.2 1.8" fill="none"/>
<path d="M128.20,537.40 C129.33,537.42 132.27,537.37 135.00,537.50 C137.73,537.63 140.53,537.83 144.60,538.20 C148.67,538.57 154.95,538.83 159.40,539.70 C163.85,540.57 168.82,542.30 171.30,543.40 C173.78,544.50 173.55,544.82 174.30,546.30 C175.05,547.78 175.30,548.82 175.80,552.30 C176.30,555.78 176.80,560.92 177.30,567.20 C177.80,573.48 178.18,582.03 178.80,590.00 C179.42,597.97 180.15,606.67 181.00,615.00 C181.85,623.33 183.28,632.50 183.90,640.00 C184.52,647.50 184.60,655.33 184.70,660.00 C184.80,664.67 185.28,666.37 184.50,668.00 C183.72,669.63 184.08,669.38 180.00,669.80 C175.92,670.22 168.33,670.30 160.00,670.50 C151.67,670.70 140.83,670.83 130.00,671.00 C119.17,671.17 100.83,671.42 95.00,671.50 C96.33,671.17 100.35,670.58 103.00,669.50 C105.65,668.42 108.78,667.42 110.90,665.00 C113.02,662.58 114.35,659.17 115.70,655.00 C117.05,650.83 118.22,645.83 119.00,640.00 C119.78,634.17 119.93,626.67 120.40,620.00 C120.87,613.33 121.68,606.67 121.80,600.00 C121.92,593.33 120.82,585.83 121.10,580.00 C121.38,574.17 122.85,570.00 123.50,565.00 C124.15,560.00 124.50,554.00 125.00,550.00 C125.50,546.00 125.97,543.10 126.50,541.00 C127.03,538.90 127.92,538.00 128.20,537.40M123.80,542.60 C124.83,542.53 127.77,542.32 130.00,542.20 C132.23,542.08 133.03,541.58 137.20,541.90 C141.37,542.22 150.30,543.23 155.00,544.10 C159.70,544.97 163.17,546.23 165.40,547.10 C167.63,547.97 167.67,547.20 168.40,549.30 C169.13,551.40 169.32,555.48 169.80,559.70 C170.28,563.92 170.80,569.55 171.30,574.60 C171.80,579.65 172.43,583.27 172.80,590.00 C173.17,596.73 173.32,606.67 173.50,615.00 C173.68,623.33 173.42,633.65 173.90,640.00 C174.38,646.35 176.27,649.27 176.40,653.10 C176.53,656.93 175.82,660.23 174.70,663.00 C173.58,665.77 173.82,668.43 169.70,669.70 C165.58,670.97 158.28,670.35 150.00,670.60 C141.72,670.85 129.67,671.03 120.00,671.20 C110.33,671.37 96.67,671.53 92.00,671.60 C92.83,671.30 95.22,670.90 97.00,669.80 C98.78,668.70 101.07,667.47 102.70,665.00 C104.33,662.53 105.32,659.17 106.80,655.00 C108.28,650.83 110.12,645.83 111.60,640.00 C113.08,634.17 114.68,626.67 115.70,620.00 C116.72,613.33 117.37,606.67 117.70,600.00 C118.03,593.33 117.40,585.83 117.70,580.00 C118.00,574.17 118.95,570.00 119.50,565.00 C120.05,560.00 120.28,553.73 121.00,550.00 C121.72,546.27 123.33,543.83 123.80,542.60M119.30,547.80 C120.75,547.73 125.02,547.52 128.00,547.40 C130.98,547.28 132.70,546.78 137.20,547.10 C141.70,547.42 150.55,548.43 155.00,549.30 C159.45,550.17 162.17,551.30 163.90,552.30 C165.63,553.30 164.90,552.82 165.40,555.30 C165.90,557.78 166.53,561.42 166.90,567.20 C167.27,572.98 167.52,582.03 167.60,590.00 C167.68,597.97 167.47,606.67 167.40,615.00 C167.33,623.33 166.82,632.27 167.20,640.00 C167.58,647.73 169.55,656.73 169.70,661.40 C169.85,666.07 169.72,666.53 168.10,668.00 C166.48,669.47 168.02,669.67 160.00,670.20 C151.98,670.73 131.58,670.95 120.00,671.20 C108.42,671.45 95.42,671.62 90.50,671.70 C91.17,671.42 93.15,671.12 94.50,670.00 C95.85,668.88 97.47,667.50 98.60,665.00 C99.73,662.50 100.17,659.17 101.30,655.00 C102.43,650.83 103.92,645.83 105.40,640.00 C106.88,634.17 109.17,626.67 110.20,620.00 C111.23,613.33 111.60,606.67 111.60,600.00 C111.60,593.33 110.13,585.00 110.20,580.00 C110.27,575.00 111.03,573.83 112.00,570.00 C112.97,566.17 114.78,560.70 116.00,557.00 C117.22,553.30 118.75,549.33 119.30,547.80M116.30,553.80 C117.25,553.58 119.77,552.88 122.00,552.50 C124.23,552.12 125.93,551.53 129.70,551.50 C133.47,551.47 140.38,551.55 144.60,552.30 C148.82,553.05 152.90,555.02 155.00,556.00 C157.10,556.98 156.70,556.10 157.20,558.20 C157.70,560.30 157.75,563.30 158.00,568.60 C158.25,573.90 158.53,582.27 158.70,590.00 C158.87,597.73 158.95,606.67 159.00,615.00 C159.05,623.33 159.00,632.27 159.00,640.00 C159.00,647.73 158.87,656.73 159.00,661.40 C159.13,666.07 161.30,666.48 159.80,668.00 C158.30,669.52 156.63,669.95 150.00,670.50 C143.37,671.05 130.00,671.10 120.00,671.30 C110.00,671.50 95.00,671.63 90.00,671.70 C90.37,671.42 91.45,671.12 92.20,670.00 C92.95,668.88 93.65,667.50 94.50,665.00 C95.35,662.50 96.05,659.17 97.30,655.00 C98.55,650.83 100.42,645.83 102.00,640.00 C103.58,634.17 105.77,626.67 106.80,620.00 C107.83,613.33 108.08,606.67 108.20,600.00 C108.32,593.33 107.45,584.67 107.50,580.00 C107.55,575.33 107.75,575.00 108.50,572.00 C109.25,569.00 110.70,565.03 112.00,562.00 C113.30,558.97 115.58,555.17 116.30,553.80M111.90,559.70 C112.58,559.47 114.27,558.67 116.00,558.30 C117.73,557.93 118.53,557.63 122.30,557.50 C126.07,557.37 134.38,557.00 138.60,557.50 C142.82,558.00 145.48,559.52 147.60,560.50 C149.72,561.48 150.43,562.05 151.30,563.40 C152.17,564.75 152.50,564.17 152.80,568.60 C153.10,573.03 152.90,582.27 153.10,590.00 C153.30,597.73 153.72,606.67 154.00,615.00 C154.28,623.33 155.78,633.10 154.80,640.00 C153.82,646.90 149.48,652.57 148.10,656.40 C146.72,660.23 146.50,661.07 146.50,663.00 C146.50,664.93 149.18,666.75 148.10,668.00 C147.02,669.25 146.35,669.93 140.00,670.50 C133.65,671.07 118.42,671.18 110.00,671.40 C101.58,671.62 92.92,671.73 89.50,671.80 C89.63,671.50 90.03,671.13 90.30,670.00 C90.57,668.87 90.50,667.50 91.10,665.00 C91.70,662.50 92.77,659.17 93.90,655.00 C95.03,650.83 96.43,645.83 97.90,640.00 C99.37,634.17 101.67,626.67 102.70,620.00 C103.73,613.33 103.65,606.67 104.10,600.00 C104.55,593.33 105.08,584.17 105.40,580.00 C105.72,575.83 105.48,577.17 106.00,575.00 C106.52,572.83 107.52,569.55 108.50,567.00 C109.48,564.45 111.33,560.92 111.90,559.70" stroke="#4d5ca8" stroke-width="0.9" fill="none" stroke-linejoin="round"/>
<path d="M45.40,672.50 C54.50,672.38 84.23,672.13 100.00,671.80 C115.77,671.47 128.33,671.05 140.00,670.50 C151.67,669.95 161.67,669.05 170.00,668.50 C178.33,667.95 184.25,667.57 190.00,667.20 C195.75,666.83 202.08,666.45 204.50,666.30" stroke="#6fcf9a" stroke-width="1" fill="none"/>
<path d="M76.80,672.70 C77.75,668.92 80.97,656.45 82.50,650.00 C84.03,643.55 84.90,638.17 86.00,634.00 C87.10,629.83 87.90,628.78 89.10,625.00 C90.30,621.22 91.88,615.47 93.20,611.30 C94.52,607.13 95.75,603.65 97.00,600.00 C98.25,596.35 99.30,592.73 100.70,589.40 C102.10,586.07 103.78,584.33 105.40,580.00 C107.02,575.67 108.45,568.38 110.40,563.40 C112.35,558.42 115.12,553.32 117.10,550.10 C119.08,546.88 120.70,545.83 122.30,544.10 C123.90,542.37 124.72,541.43 126.70,539.70 C128.68,537.97 132.22,535.20 134.20,533.70 C136.18,532.20 137.87,531.20 138.60,530.70" stroke="#e83a3a" stroke-width="1" fill="none"/>
<g fill="#9a1c2a"><circle cx="128.20" cy="537.40" r="0.9"/><circle cx="123.80" cy="542.60" r="0.9"/><circle cx="119.30" cy="547.80" r="0.9"/><circle cx="116.30" cy="553.80" r="0.9"/><circle cx="111.90" cy="559.70" r="0.9"/></g>
<path d="M45.40,533.80V672.70H204.50" stroke="#2a2a2a" stroke-width="1" fill="none"/>
<path d="M42.20,533.80H48.80M43.80,538.43H47.00M42.20,543.06H48.80M43.80,547.69H47.00M42.20,552.32H48.80M43.80,556.95H47.00M42.20,561.58H48.80M43.80,566.21H47.00M42.20,570.84H48.80M43.80,575.47H47.00M42.20,580.10H48.80M43.80,584.73H47.00M42.20,589.36H48.80M43.80,593.99H47.00M42.20,598.62H48.80M43.80,603.25H47.00M42.20,607.88H48.80M43.80,612.51H47.00M42.20,617.14H48.80M43.80,621.77H47.00M42.20,626.40H48.80M43.80,631.03H47.00M42.20,635.66H48.80M43.80,640.29H47.00M42.20,644.92H48.80M43.80,649.55H47.00M42.20,654.18H48.80M43.80,658.81H47.00M42.20,663.44H48.80M43.80,668.07H47.00M42.20,672.70H48.80M77.22,675.30V669.90M109.04,675.30V669.90M140.86,675.30V669.90M172.68,675.30V669.90M204.50,675.30V669.90M61.31,672.70V670.90M93.13,672.70V670.90M124.95,672.70V670.90M156.77,672.70V670.90M188.59,672.70V670.90" stroke="#2a2a2a" stroke-width="1" fill="none"/>
<line x1="89.30" y1="527.00" x2="89.30" y2="681.70" stroke="#2b3aa2" stroke-width="1.6" />
<line x1="179.50" y1="527.00" x2="179.50" y2="681.70" stroke="#3646ac" stroke-width="1.45" />
<text x="41.80" y="537.26" font-size="8.0" font-weight="bold" text-anchor="end" fill="#111" stroke="#111" stroke-width="0.3" >150</text>
<text x="41.80" y="583.36" font-size="8.0" font-weight="bold" text-anchor="end" fill="#111" stroke="#111" stroke-width="0.3" >100</text>
<text x="41.80" y="629.46" font-size="8.0" font-weight="bold" text-anchor="end" fill="#111" stroke="#111" stroke-width="0.3" >50</text>
<text x="41.80" y="674.86" font-size="8.0" font-weight="bold" text-anchor="end" fill="#111" stroke="#111" stroke-width="0.3" >0</text>
<text x="43.00" y="683.26" font-size="8.0" font-weight="normal" text-anchor="middle" fill="#111" stroke="#111" stroke-width="0.25" >5</text>
<text x="74.82" y="683.26" font-size="8.0" font-weight="normal" text-anchor="middle" fill="#111" stroke="#111" stroke-width="0.25" >45</text>
<text x="106.64" y="683.26" font-size="8.0" font-weight="normal" text-anchor="middle" fill="#111" stroke="#111" stroke-width="0.25" >85</text>
<text x="138.46" y="683.26" font-size="8.0" font-weight="normal" text-anchor="middle" fill="#111" stroke="#111" stroke-width="0.25" >125</text>
<text x="170.28" y="683.26" font-size="8.0" font-weight="normal" text-anchor="middle" fill="#111" stroke="#111" stroke-width="0.25" >165</text>
<text x="203.80" y="683.26" font-size="8.0" font-weight="normal" text-anchor="middle" fill="#111" stroke="#111" stroke-width="0.25" >205</text>
<text x="130.80" y="692.72" font-size="9.0" font-weight="bold" text-anchor="middle" fill="#111" stroke="#111" stroke-width="0.3" >Volume (µl)</text>
<text transform="translate(12.90,601.50) rotate(-90)" font-size="10" font-weight="bold" text-anchor="middle" fill="#111" stroke="#111" stroke-width="0.4">Pressure (mmHg)</text>
<text x="98.10" y="537.20" font-size="11.8" font-weight="bold" fill="#111" stroke="#111" stroke-width="0.35">ZL+Zn(ASA)<tspan font-size="8" dy="2.4">2</tspan></text>
<text x="5.20" y="14.90" font-size="16.5" font-weight="bold" text-anchor="start" fill="#111" >a</text>
<clipPath id="clipb0"><rect x="307.60" y="162.28" width="53.70" height="106.92"/></clipPath>
<rect x="307.60" y="162.28" width="53.70" height="106.92" fill="#fff"/>
<rect x="307.60" y="162.28" width="53.70" height="106.92" fill="none" stroke="#111" stroke-width="1.7"/>
<line x1="334.45" y1="161.28" x2="334.45" y2="152.38" stroke="#9a9a9a" stroke-width="1" />
<line x1="332.15" y1="152.38" x2="336.75" y2="152.38" stroke="#9a9a9a" stroke-width="1.1" />
<clipPath id="clipb1"><rect x="374.70" y="102.88" width="53.70" height="166.32"/></clipPath>
<rect x="374.70" y="102.88" width="53.70" height="166.32" fill="#fff"/>
<path d="M208.38,269.20L374.70,102.88M214.08,269.20L380.40,102.88M219.78,269.20L386.10,102.88M225.48,269.20L391.80,102.88M231.18,269.20L397.50,102.88M236.88,269.20L403.20,102.88M242.58,269.20L408.90,102.88M248.28,269.20L414.60,102.88M253.98,269.20L420.30,102.88M259.68,269.20L426.00,102.88M265.38,269.20L431.70,102.88M271.08,269.20L437.40,102.88M276.78,269.20L443.10,102.88M282.48,269.20L448.80,102.88M288.18,269.20L454.50,102.88M293.88,269.20L460.20,102.88M299.58,269.20L465.90,102.88M305.28,269.20L471.60,102.88M310.98,269.20L477.30,102.88M316.68,269.20L483.00,102.88M322.38,269.20L488.70,102.88M328.08,269.20L494.40,102.88M333.78,269.20L500.10,102.88M339.48,269.20L505.80,102.88M345.18,269.20L511.50,102.88M350.88,269.20L517.20,102.88M356.58,269.20L522.90,102.88M362.28,269.20L528.60,102.88M367.98,269.20L534.30,102.88M373.68,269.20L540.00,102.88M379.38,269.20L545.70,102.88M385.08,269.20L551.40,102.88M390.78,269.20L557.10,102.88M396.48,269.20L562.80,102.88M402.18,269.20L568.50,102.88M407.88,269.20L574.20,102.88M413.58,269.20L579.90,102.88M419.28,269.20L585.60,102.88M424.98,269.20L591.30,102.88" stroke="#8c8c8c" stroke-width="1.05" clip-path="url(#clipb1)" fill="none"/>
<rect x="374.70" y="102.88" width="53.70" height="166.32" fill="none" stroke="#111" stroke-width="1.7"/>
<line x1="401.55" y1="101.88" x2="401.55" y2="75.16" stroke="#9a9a9a" stroke-width="1" />
<line x1="399.25" y1="75.16" x2="403.85" y2="75.16" stroke="#9a9a9a" stroke-width="1.1" />
<clipPath id="clipb2"><rect x="442.10" y="142.48" width="54.10" height="126.72"/></clipPath>
<rect x="442.10" y="142.48" width="54.10" height="126.72" fill="#fff"/>
<path d="M315.38,142.48L442.10,269.20M321.08,142.48L447.80,269.20M326.78,142.48L453.50,269.20M332.48,142.48L459.20,269.20M338.18,142.48L464.90,269.20M343.88,142.48L470.60,269.20M349.58,142.48L476.30,269.20M355.28,142.48L482.00,269.20M360.98,142.48L487.70,269.20M366.68,142.48L493.40,269.20M372.38,142.48L499.10,269.20M378.08,142.48L504.80,269.20M383.78,142.48L510.50,269.20M389.48,142.48L516.20,269.20M395.18,142.48L521.90,269.20M400.88,142.48L527.60,269.20M406.58,142.48L533.30,269.20M412.28,142.48L539.00,269.20M417.98,142.48L544.70,269.20M423.68,142.48L550.40,269.20M429.38,142.48L556.10,269.20M435.08,142.48L561.80,269.20M440.78,142.48L567.50,269.20M446.48,142.48L573.20,269.20M452.18,142.48L578.90,269.20M457.88,142.48L584.60,269.20M463.58,142.48L590.30,269.20M469.28,142.48L596.00,269.20M474.98,142.48L601.70,269.20M480.68,142.48L607.40,269.20M486.38,142.48L613.10,269.20M492.08,142.48L618.80,269.20" stroke="#575757" stroke-width="1.1" clip-path="url(#clipb2)" fill="none"/>
<rect x="442.10" y="142.48" width="54.10" height="126.72" fill="none" stroke="#111" stroke-width="1.7"/>
<line x1="469.15" y1="141.48" x2="469.15" y2="126.64" stroke="#9a9a9a" stroke-width="1" />
<line x1="466.85" y1="126.64" x2="471.45" y2="126.64" stroke="#9a9a9a" stroke-width="1.1" />
<clipPath id="clipb3"><rect x="509.50" y="162.28" width="53.90" height="106.92"/></clipPath>
<rect x="509.50" y="162.28" width="53.90" height="106.92" fill="#fff"/>
<path d="M402.58,269.20L509.50,162.28M408.28,269.20L515.20,162.28M413.98,269.20L520.90,162.28M419.68,269.20L526.60,162.28M425.38,269.20L532.30,162.28M431.08,269.20L538.00,162.28M436.78,269.20L543.70,162.28M442.48,269.20L549.40,162.28M448.18,269.20L555.10,162.28M453.88,269.20L560.80,162.28M459.58,269.20L566.50,162.28M465.28,269.20L572.20,162.28M470.98,269.20L577.90,162.28M476.68,269.20L583.60,162.28M482.38,269.20L589.30,162.28M488.08,269.20L595.00,162.28M493.78,269.20L600.70,162.28M499.48,269.20L606.40,162.28M505.18,269.20L612.10,162.28M510.88,269.20L617.80,162.28M516.58,269.20L623.50,162.28M522.28,269.20L629.20,162.28M527.98,269.20L634.90,162.28M533.68,269.20L640.60,162.28M539.38,269.20L646.30,162.28M545.08,269.20L652.00,162.28M550.78,269.20L657.70,162.28M556.48,269.20L663.40,162.28M562.18,269.20L669.10,162.28" stroke="#6e6e6e" stroke-width="0.95" clip-path="url(#clipb3)" fill="none"/>
<path d="M402.58,162.28L509.50,269.20M408.28,162.28L515.20,269.20M413.98,162.28L520.90,269.20M419.68,162.28L526.60,269.20M425.38,162.28L532.30,269.20M431.08,162.28L538.00,269.20M436.78,162.28L543.70,269.20M442.48,162.28L549.40,269.20M448.18,162.28L555.10,269.20M453.88,162.28L560.80,269.20M459.58,162.28L566.50,269.20M465.28,162.28L572.20,269.20M470.98,162.28L577.90,269.20M476.68,162.28L583.60,269.20M482.38,162.28L589.30,269.20M488.08,162.28L595.00,269.20M493.78,162.28L600.70,269.20M499.48,162.28L606.40,269.20M505.18,162.28L612.10,269.20M510.88,162.28L617.80,269.20M516.58,162.28L623.50,269.20M522.28,162.28L629.20,269.20M527.98,162.28L634.90,269.20M533.68,162.28L640.60,269.20M539.38,162.28L646.30,269.20M545.08,162.28L652.00,269.20M550.78,162.28L657.70,269.20M556.48,162.28L663.40,269.20M562.18,162.28L669.10,269.20" stroke="#6e6e6e" stroke-width="0.95" clip-path="url(#clipb3)" fill="none"/>
<rect x="509.50" y="162.28" width="53.90" height="106.92" fill="none" stroke="#111" stroke-width="1.7"/>
<line x1="536.45" y1="161.28" x2="536.45" y2="150.40" stroke="#9a9a9a" stroke-width="1" />
<line x1="534.15" y1="150.40" x2="538.75" y2="150.40" stroke="#9a9a9a" stroke-width="1.1" />
<path d="M301.10,70.50V269.20H571.00" stroke="#111" stroke-width="1.8" fill="none"/>
<path d="M296.50,269.20H301.10M296.50,229.60H301.10M296.50,190.00H301.10M296.50,150.40H301.10M296.50,110.80H301.10M296.50,71.20H301.10M298.70,249.40H301.10M298.70,209.80H301.10M298.70,170.20H301.10M298.70,130.60H301.10M298.70,91.00H301.10" stroke="#111" stroke-width="1.3" fill="none"/>
<text x="294.00" y="272.62" font-size="11.8" font-weight="bold" text-anchor="end" fill="#111" >0.00</text>
<text x="294.00" y="233.02" font-size="11.8" font-weight="bold" text-anchor="end" fill="#111" >0.02</text>
<text x="294.00" y="193.42" font-size="11.8" font-weight="bold" text-anchor="end" fill="#111" >0.04</text>
<text x="294.00" y="153.82" font-size="11.8" font-weight="bold" text-anchor="end" fill="#111" >0.06</text>
<text x="294.00" y="114.22" font-size="11.8" font-weight="bold" text-anchor="end" fill="#111" >0.08</text>
<text x="294.00" y="74.62" font-size="11.8" font-weight="bold" text-anchor="end" fill="#111" >0.10</text>
<clipPath id="clipc0"><rect x="308.00" y="495.28" width="54.00" height="134.32"/></clipPath>
<rect x="308.00" y="495.28" width="54.00" height="134.32" fill="#fff"/>
<rect x="308.00" y="495.28" width="54.00" height="134.32" fill="none" stroke="#111" stroke-width="1.7"/>
<line x1="335.00" y1="494.28" x2="335.00" y2="488.67" stroke="#9a9a9a" stroke-width="1" />
<line x1="332.70" y1="488.67" x2="337.30" y2="488.67" stroke="#9a9a9a" stroke-width="1.1" />
<clipPath id="clipc1"><rect x="375.60" y="455.64" width="53.80" height="173.96"/></clipPath>
<rect x="375.60" y="455.64" width="53.80" height="173.96" fill="#fff"/>
<path d="M201.64,629.60L375.60,455.64M207.34,629.60L381.30,455.64M213.04,629.60L387.00,455.64M218.74,629.60L392.70,455.64M224.44,629.60L398.40,455.64M230.14,629.60L404.10,455.64M235.84,629.60L409.80,455.64M241.54,629.60L415.50,455.64M247.24,629.60L421.20,455.64M252.94,629.60L426.90,455.64M258.64,629.60L432.60,455.64M264.34,629.60L438.30,455.64M270.04,629.60L444.00,455.64M275.74,629.60L449.70,455.64M281.44,629.60L455.40,455.64M287.14,629.60L461.10,455.64M292.84,629.60L466.80,455.64M298.54,629.60L472.50,455.64M304.24,629.60L478.20,455.64M309.94,629.60L483.90,455.64M315.64,629.60L489.60,455.64M321.34,629.60L495.30,455.64M327.04,629.60L501.00,455.64M332.74,629.60L506.70,455.64M338.44,629.60L512.40,455.64M344.14,629.60L518.10,455.64M349.84,629.60L523.80,455.64M355.54,629.60L529.50,455.64M361.24,629.60L535.20,455.64M366.94,629.60L540.90,455.64M372.64,629.60L546.60,455.64M378.34,629.60L552.30,455.64M384.04,629.60L558.00,455.64M389.74,629.60L563.70,455.64M395.44,629.60L569.40,455.64M401.14,629.60L575.10,455.64M406.84,629.60L580.80,455.64M412.54,629.60L586.50,455.64M418.24,629.60L592.20,455.64M423.94,629.60L597.90,455.64M429.64,629.60L603.60,455.64" stroke="#8c8c8c" stroke-width="1.05" clip-path="url(#clipc1)" fill="none"/>
<rect x="375.60" y="455.64" width="53.80" height="173.96" fill="none" stroke="#111" stroke-width="1.7"/>
<line x1="402.50" y1="454.64" x2="402.50" y2="440.23" stroke="#9a9a9a" stroke-width="1" />
<line x1="400.20" y1="440.23" x2="404.80" y2="440.23" stroke="#9a9a9a" stroke-width="1.1" />
<clipPath id="clipc2"><rect x="442.60" y="486.47" width="54.00" height="143.13"/></clipPath>
<rect x="442.60" y="486.47" width="54.00" height="143.13" fill="#fff"/>
<path d="M299.47,486.47L442.60,629.60M305.17,486.47L448.30,629.60M310.87,486.47L454.00,629.60M316.57,486.47L459.70,629.60M322.27,486.47L465.40,629.60M327.97,486.47L471.10,629.60M333.67,486.47L476.80,629.60M339.37,486.47L482.50,629.60M345.07,486.47L488.20,629.60M350.77,486.47L493.90,629.60M356.47,486.47L499.60,629.60M362.17,486.47L505.30,629.60M367.87,486.47L511.00,629.60M373.57,486.47L516.70,629.60M379.27,486.47L522.40,629.60M384.97,486.47L528.10,629.60M390.67,486.47L533.80,629.60M396.37,486.47L539.50,629.60M402.07,486.47L545.20,629.60M407.77,486.47L550.90,629.60M413.47,486.47L556.60,629.60M419.17,486.47L562.30,629.60M424.87,486.47L568.00,629.60M430.57,486.47L573.70,629.60M436.27,486.47L579.40,629.60M441.97,486.47L585.10,629.60M447.67,486.47L590.80,629.60M453.37,486.47L596.50,629.60M459.07,486.47L602.20,629.60M464.77,486.47L607.90,629.60M470.47,486.47L613.60,629.60M476.17,486.47L619.30,629.60M481.87,486.47L625.00,629.60M487.57,486.47L630.70,629.60M493.27,486.47L636.40,629.60" stroke="#575757" stroke-width="1.1" clip-path="url(#clipc2)" fill="none"/>
<rect x="442.60" y="486.47" width="54.00" height="143.13" fill="none" stroke="#111" stroke-width="1.7"/>
<line x1="469.60" y1="485.47" x2="469.60" y2="473.26" stroke="#9a9a9a" stroke-width="1" />
<line x1="467.30" y1="473.26" x2="471.90" y2="473.26" stroke="#9a9a9a" stroke-width="1.1" />
<clipPath id="clipc3"><rect x="510.00" y="506.29" width="54.00" height="123.31"/></clipPath>
<rect x="510.00" y="506.29" width="54.00" height="123.31" fill="#fff"/>
<path d="M386.69,629.60L510.00,506.29M392.39,629.60L515.70,506.29M398.09,629.60L521.40,506.29M403.79,629.60L527.10,506.29M409.49,629.60L532.80,506.29M415.19,629.60L538.50,506.29M420.89,629.60L544.20,506.29M426.59,629.60L549.90,506.29M432.29,629.60L555.60,506.29M437.99,629.60L561.30,506.29M443.69,629.60L567.00,506.29M449.39,629.60L572.70,506.29M455.09,629.60L578.40,506.29M460.79,629.60L584.10,506.29M466.49,629.60L589.80,506.29M472.19,629.60L595.50,506.29M477.89,629.60L601.20,506.29M483.59,629.60L606.90,506.29M489.29,629.60L612.60,506.29M494.99,629.60L618.30,506.29M500.69,629.60L624.00,506.29M506.39,629.60L629.70,506.29M512.09,629.60L635.40,506.29M517.79,629.60L641.10,506.29M523.49,629.60L646.80,506.29M529.19,629.60L652.50,506.29M534.89,629.60L658.20,506.29M540.59,629.60L663.90,506.29M546.29,629.60L669.60,506.29M551.99,629.60L675.30,506.29M557.69,629.60L681.00,506.29M563.39,629.60L686.70,506.29" stroke="#6e6e6e" stroke-width="0.95" clip-path="url(#clipc3)" fill="none"/>
<path d="M386.69,506.29L510.00,629.60M392.39,506.29L515.70,629.60M398.09,506.29L521.40,629.60M403.79,506.29L527.10,629.60M409.49,506.29L532.80,629.60M415.19,506.29L538.50,629.60M420.89,506.29L544.20,629.60M426.59,506.29L549.90,629.60M432.29,506.29L555.60,629.60M437.99,506.29L561.30,629.60M443.69,506.29L567.00,629.60M449.39,506.29L572.70,629.60M455.09,506.29L578.40,629.60M460.79,506.29L584.10,629.60M466.49,506.29L589.80,629.60M472.19,506.29L595.50,629.60M477.89,506.29L601.20,629.60M483.59,506.29L606.90,629.60M489.29,506.29L612.60,629.60M494.99,506.29L618.30,629.60M500.69,506.29L624.00,629.60M506.39,506.29L629.70,629.60M512.09,506.29L635.40,629.60M517.79,506.29L641.10,629.60M523.49,506.29L646.80,629.60M529.19,506.29L652.50,629.60M534.89,506.29L658.20,629.60M540.59,506.29L663.90,629.60M546.29,506.29L669.60,629.60M551.99,506.29L675.30,629.60M557.69,506.29L681.00,629.60M563.39,506.29L686.70,629.60" stroke="#6e6e6e" stroke-width="0.95" clip-path="url(#clipc3)" fill="none"/>
<rect x="510.00" y="506.29" width="54.00" height="123.31" fill="none" stroke="#111" stroke-width="1.7"/>
<line x1="537.00" y1="505.29" x2="537.00" y2="501.88" stroke="#9a9a9a" stroke-width="1" />
<line x1="534.70" y1="501.88" x2="539.30" y2="501.88" stroke="#9a9a9a" stroke-width="1.1" />
<path d="M301.10,430.50V629.60H571.00" stroke="#111" stroke-width="1.8" fill="none"/>
<path d="M296.50,629.60H301.10M296.50,607.58H301.10M296.50,585.56H301.10M296.50,563.54H301.10M296.50,541.52H301.10M296.50,519.50H301.10M296.50,497.48H301.10M296.50,475.46H301.10M296.50,453.44H301.10M296.50,431.42H301.10M298.70,618.59H301.10M298.70,596.57H301.10M298.70,574.55H301.10M298.70,552.53H301.10M298.70,530.51H301.10M298.70,508.49H301.10M298.70,486.47H301.10M298.70,464.45H301.10M298.70,442.43H301.10" stroke="#111" stroke-width="1.3" fill="none"/>
<text x="294.80" y="633.02" font-size="11.8" font-weight="bold" text-anchor="end" fill="#111" >0</text>
<text x="294.80" y="611.00" font-size="11.8" font-weight="bold" text-anchor="end" fill="#111" >1</text>
<text x="294.80" y="588.98" font-size="11.8" font-weight="bold" text-anchor="end" fill="#111" >2</text>
<text x="294.80" y="566.96" font-size="11.8" font-weight="bold" text-anchor="end" fill="#111" >3</text>
<text x="294.80" y="544.94" font-size="11.8" font-weight="bold" text-anchor="end" fill="#111" >4</text>
<text x="294.80" y="522.92" font-size="11.8" font-weight="bold" text-anchor="end" fill="#111" >5</text>
<text x="294.80" y="500.90" font-size="11.8" font-weight="bold" text-anchor="end" fill="#111" >6</text>
<text x="294.80" y="478.88" font-size="11.8" font-weight="bold" text-anchor="end" fill="#111" >7</text>
<text x="294.80" y="456.86" font-size="11.8" font-weight="bold" text-anchor="end" fill="#111" >8</text>
<text x="294.80" y="434.84" font-size="11.8" font-weight="bold" text-anchor="end" fill="#111" >9</text>
<text x="248.00" y="65.60" font-size="16.5" font-weight="bold" text-anchor="start" fill="#111" >b</text>
<text x="262.80" y="426.80" font-size="16.5" font-weight="bold" text-anchor="start" fill="#111" >c</text>
<path d="M402.20,67.60L402.20,64.25M402.20,67.60L405.39,66.56M402.20,67.60L404.17,70.31M402.20,67.60L400.23,70.31M402.20,67.60L399.01,66.56" stroke="#111" stroke-width="2.0" stroke-linecap="round" fill="none"/>
<path d="M402.40,432.40L402.40,429.05M402.40,432.40L405.59,431.36M402.40,432.40L404.37,435.11M402.40,432.40L400.43,435.11M402.40,432.40L399.21,431.36" stroke="#111" stroke-width="2.0" stroke-linecap="round" fill="none"/>
<text transform="translate(256.30,169.40) rotate(-90)" font-size="13.9" font-weight="bold" text-anchor="middle" fill="#111">Slope of EDPVR (mmHg/µl)</text>
<text transform="translate(277.40,528.90) rotate(-90)" font-size="14" font-weight="bold" text-anchor="middle" fill="#111">LVEDP (mmHg)</text>
<text transform="translate(335.70,278.50) rotate(-45)" font-size="11" font-weight="bold" text-anchor="end" fill="#111">ZL</text>
<text transform="translate(405.70,278.00) rotate(-45)" font-size="11" font-weight="bold" text-anchor="end" fill="#111">ZDF</text>
<text transform="translate(481.00,275.80) rotate(-41)" font-size="10.2" font-weight="bold" text-anchor="end" fill="#111">ZDF+Zn(ASA)<tspan dy="1.3">2</tspan></text>
<text transform="translate(551.80,277.60) rotate(-41)" font-size="10.2" font-weight="bold" text-anchor="end" fill="#111">ZL+Zn(ASA)<tspan dy="1.3">2</tspan></text>
<text transform="translate(335.70,638.90) rotate(-45)" font-size="11" font-weight="bold" text-anchor="end" fill="#111">ZL</text>
<text transform="translate(405.70,638.40) rotate(-45)" font-size="11" font-weight="bold" text-anchor="end" fill="#111">ZDF</text>
<text transform="translate(481.00,636.20) rotate(-41)" font-size="10.2" font-weight="bold" text-anchor="end" fill="#111">ZDF+Zn(ASA)<tspan dy="1.3">2</tspan></text>
<text transform="translate(551.80,638.00) rotate(-41)" font-size="10.2" font-weight="bold" text-anchor="end" fill="#111">ZL+Zn(ASA)<tspan dy="1.3">2</tspan></text>
</svg>
</body></html>
